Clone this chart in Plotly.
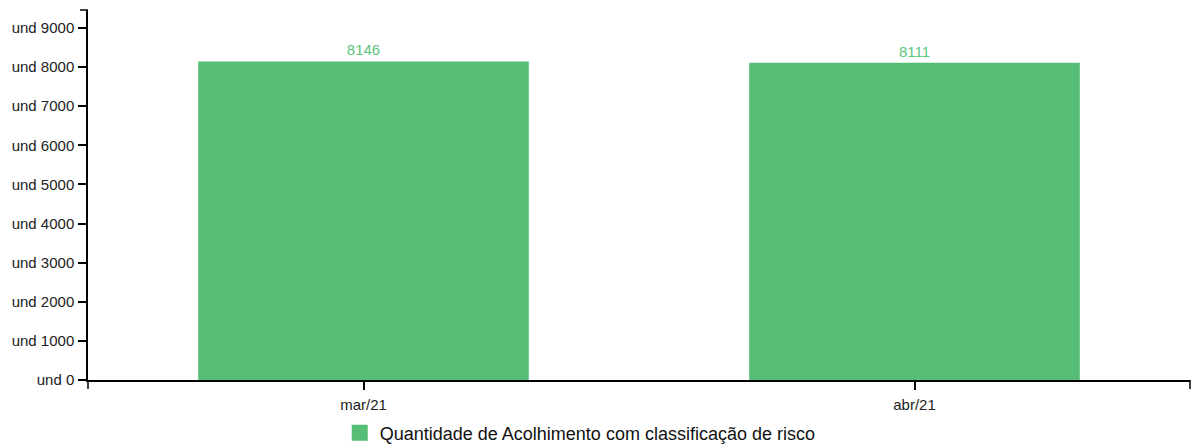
import plotly.graph_objects as go

# Monthly totals
months = ["mar/21", "abr/21"]
acolhimento = [8146, 8111]
series_name = "Quantidade de Acolhimento com classificação de risco"
tick_values = [0, 1000, 2000, 3000, 4000, 5000, 6000, 7000, 8000, 9000]
tick_labels = ["und " + str(v) for v in tick_values]

green = "#56BD77"
font_family = "Liberation Sans, Arial, sans-serif"

fig = go.Figure()
fig.add_trace(
    go.Bar(
        x=months,
        y=acolhimento,
        name=series_name,
        marker=dict(color=green, line=dict(width=0)),
        text=[str(v) for v in acolhimento],
        textposition="outside",
        textfont=dict(color="#5cc57c", size=15, family=font_family),
        cliponaxis=False,
        showlegend=False,
    )
)
# Legend entry with a larger square swatch
fig.add_trace(
    go.Scatter(
        x=[None],
        y=[None],
        mode="markers",
        name=series_name,
        marker=dict(symbol="square", size=16, color=green),
        showlegend=True,
    )
)

fig.update_layout(
    width=1192,
    height=445,
    margin=dict(l=88, r=2, t=10, b=65, autoexpand=False),
    paper_bgcolor="white",
    plot_bgcolor="white",
    bargap=0.4,
    font=dict(family=font_family, size=15, color="#222"),
    legend=dict(
        orientation="h",
        xref="container",
        yref="container",
        x=0.285,
        xanchor="left",
        y=0.027,
        yanchor="middle",
        font=dict(size=18, color="#111"),
    ),
)

fig.update_xaxes(
    showline=True,
    linecolor="black",
    linewidth=1.5,
    ticks="outside",
    ticklen=8,
    tickcolor="black",
    tickwidth=1.5,
    ticklabelstandoff=2,
    tickfont=dict(size=15, color="#222"),
    showgrid=False,
    zeroline=False,
)
fig.update_yaxes(
    range=[0, 9460],
    showline=True,
    linecolor="black",
    linewidth=1.5,
    ticks="outside",
    ticklen=8,
    tickcolor="black",
    tickwidth=1.5,
    ticklabelstandoff=1,
    tickvals=tick_values,
    ticktext=tick_labels,
    tickfont=dict(size=15, color="#222"),
    showgrid=False,
    zeroline=False,
)

# End caps of the axis domains
cap = dict(color="black", width=1.5)
fig.add_shape(type="line", xref="x domain", yref="y domain", x0=1, x1=1,
              ysizemode="pixel", yanchor=0, y0=0, y1=-9, line=cap)
fig.add_shape(type="line", xref="x domain", yref="y domain", x0=0, x1=0,
              ysizemode="pixel", yanchor=0, y0=0, y1=-9, line=cap)
fig.add_shape(type="line", xref="x domain", yref="y domain", y0=1, y1=1,
              xsizemode="pixel", xanchor=0, x0=0, x1=-8, line=cap)

fig.write_html("out.html")
